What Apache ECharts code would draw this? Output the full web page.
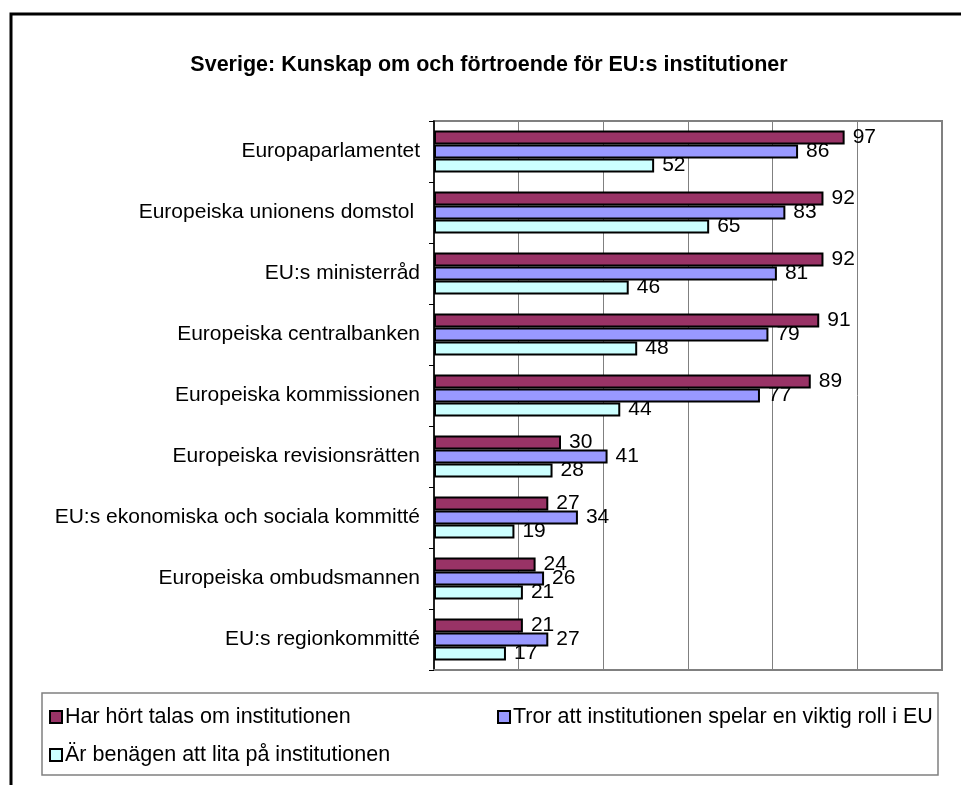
<!DOCTYPE html>
<html>
<head>
<meta charset="utf-8">
<script src="https://cdn.jsdelivr.net/npm/echarts@6/dist/echarts.min.js"></script>
<style>
  html, body { margin: 0; padding: 0; background: #fff; }
  #chart { width: 961px; height: 785px; }
</style>
</head>
<body>
<div id="chart"></div>
<script>
  var institutions = [
    'Europaparlamentet',
    'Europeiska unionens domstol ',
    'EU:s ministerråd',
    'Europeiska centralbanken',
    'Europeiska kommissionen',
    'Europeiska revisionsrätten',
    'EU:s ekonomiska och sociala kommitté',
    'Europeiska ombudsmannen',
    'EU:s regionkommitté'
  ];
  var seriesNames = [
    'Har hört talas om institutionen',
    'Tror att institutionen spelar en viktig roll i EU',
    'Är benägen att lita på institutionen'
  ];
  var hortTalas = [97, 92, 92, 91, 89, 30, 27, 24, 21];
  var viktigRoll = [86, 83, 81, 79, 77, 41, 34, 26, 27];
  var litaPa = [52, 65, 46, 48, 44, 28, 19, 21, 17];
  var colors = ['#993366', '#9999ff', '#ccffff'];

  var font = 'Liberation Sans, Arial, sans-serif';
  var chart = echarts.init(document.getElementById('chart'));

  function barSeries(i, data) {
    return {
      name: seriesNames[i],
      type: 'bar',
      data: data,
      barWidth: 14,
      barGap: '0%',
      itemStyle: { color: colors[i], borderColor: '#000', borderWidth: 2 },
      label: {
        show: true, position: 'right', distance: 8,
        color: '#000', fontSize: 21, fontFamily: font
      },
      animation: false
    };
  }

  function legend(name, left, top) {
    return {
      data: [name],
      left: left, top: top,
      orient: 'horizontal',
      icon: 'rect',
      itemWidth: 12, itemHeight: 12,
      itemGap: 4,
      selectedMode: false,
      itemStyle: { borderColor: '#000', borderWidth: 2 },
      textStyle: { color: '#000', fontSize: 21.5, fontFamily: font, padding: [0, 0, 0, -2] }
    };
  }

  chart.setOption({
    backgroundColor: '#fff',
    title: {
      text: 'Sverige: Kunskap om och förtroende för EU:s institutioner',
      left: 484, top: 49, textAlign: 'center',
      textStyle: { fontSize: 21.5, fontWeight: 'bold', color: '#000', fontFamily: font }
    },
    graphic: [
      { type: 'rect', shape: { x: 11, y: 14, width: 1000, height: 1000 },
        style: { fill: 'none', stroke: '#000', lineWidth: 3 }, silent: true, z: -1 },
      { type: 'rect', shape: { x: 42, y: 693, width: 896, height: 82 },
        style: { fill: 'none', stroke: '#808080', lineWidth: 1.5 }, silent: true, z: -1 }
    ],
    legend: [
      legend(seriesNames[0], 44, 701),
      legend(seriesNames[1], 492, 701),
      legend(seriesNames[2], 44, 739)
    ],
    grid: {
      left: 434, right: 19, top: 121, bottom: 115,
      show: true, borderColor: '#808080', borderWidth: 2, backgroundColor: 'transparent'
    },
    xAxis: {
      type: 'value', min: 0, max: 120, interval: 20,
      axisLabel: { show: false },
      axisTick: { show: false },
      axisLine: { show: true, lineStyle: { color: '#808080', width: 2 } },
      splitLine: { show: true, lineStyle: { color: '#808080', width: 1 } }
    },
    yAxis: {
      type: 'category', data: institutions, inverse: true,
      axisLine: { show: true, lineStyle: { color: '#000', width: 1.5 } },
      axisTick: { show: true, length: 5, lineStyle: { color: '#000' } },
      axisLabel: { color: '#000', fontSize: 21, fontFamily: font, margin: 14 }
    },
    series: [
      barSeries(0, hortTalas),
      barSeries(1, viktigRoll),
      barSeries(2, litaPa)
    ]
  });
</script>
</body>
</html>
